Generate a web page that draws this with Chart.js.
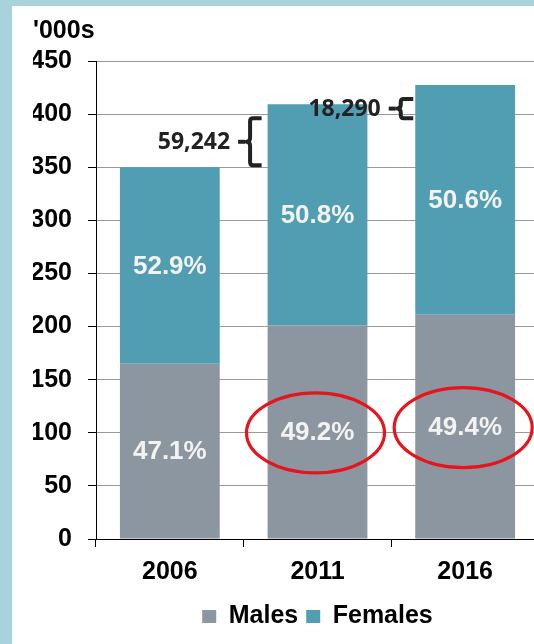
<!DOCTYPE html>
<html>
<head>
<meta charset="utf-8">
<script src="https://cdn.jsdelivr.net/npm/chart.js@4/dist/chart.umd.min.js"></script>
<style>
  html, body { margin: 0; padding: 0; width: 534px; height: 644px; overflow: hidden; background: #a8d2dc; }
  #c { position: absolute; left: 12px; top: 6px; background: #ffffff; }
</style>
</head>
<body>
<canvas id="c" width="540" height="638"></canvas>
<script>
// ---- data ----
const years = ['2006', '2011', '2016'];
const males = [164.9, 201.3, 211.2];     // '000s
const females = [185.1, 207.9, 216.3];   // '000s
const malePct = ['47.1%', '49.2%', '49.4%'];
const femalePct = ['52.9%', '50.8%', '50.6%'];
const growthLabels = ['59,242', '18,290'];   // increase between consecutive totals
const highlighted = [1, 2];                  // circled male shares
const yMin = 0, yMax = 450, yStep = 50;
const unitLabel = "'000s";

const MALE_COLOR = '#8c96a1';
const FEMALE_COLOR = '#519eb3';
const FONT = "'Liberation Sans', Arial, sans-serif";

Chart.defaults.font.family = FONT;
Chart.defaults.color = '#000';

const totals = males.map((m, i) => m + females[i]);

const labelPlugin = {
  id: 'segLabels',
  afterDatasetsDraw(chart) {
    const ctx = chart.ctx;
    ctx.save();
    ctx.font = "bold 26px " + FONT;
    ctx.fillStyle = '#f3f3f3';
    ctx.textAlign = 'center';
    ctx.textBaseline = 'middle';
    const sets = [malePct, femalePct];
    chart.data.datasets.forEach((ds, di) => {
      const meta = chart.getDatasetMeta(di);
      meta.data.forEach((bar, i) => {
        const cy = (bar.y + bar.base) / 2;
        ctx.fillText(sets[di][i], bar.x, cy + 1);
      });
    });
    // red ellipses around highlighted male shares
    const mMeta = chart.getDatasetMeta(0);
    ctx.strokeStyle = '#e8141b';
    ctx.lineWidth = 3.2;
    highlighted.forEach(i => {
      const bar = mMeta.data[i];
      const cy = (bar.y + bar.base) / 2;
      ctx.beginPath();
      ctx.ellipse(bar.x - 2, cy + 1, 69, 40, 0, 0, Math.PI * 2);
      ctx.stroke();
    });
    ctx.restore();
  }
};

const bracePlugin = {
  id: 'braces',
  afterDraw(chart) {
    const ctx = chart.ctx;
    const y = chart.scales.y;
    const fMeta = chart.getDatasetMeta(1);
    const xOff = [-17.5, -14.5];
    const hook = [11.5, 12.5];
    const topOff = [14, 14];
    const botOff = [-2, 14];
    ctx.save();
    ctx.strokeStyle = '#222222';
    ctx.fillStyle = '#222222';
    ctx.lineWidth = 4;
    ctx.lineJoin = 'round';
    ctx.lineCap = 'butt';
    growthLabels.forEach((txt, k) => {
      const bar = fMeta.data[k + 1];
      const left = bar.x - bar.width / 2;
      const vx = left + xOff[k];
      const top = y.getPixelForValue(totals[k + 1]) + topOff[k];
      const bot = y.getPixelForValue(totals[k]) + botOff[k];
      const mid = (top + bot) / 2;
      ctx.beginPath();
      ctx.moveTo(vx + hook[k], top);
      ctx.lineTo(vx + 3, top);
      ctx.quadraticCurveTo(vx, top, vx, top + 3);
      ctx.lineTo(vx, mid - 4);
      ctx.quadraticCurveTo(vx, mid, vx - 3.5, mid);
      ctx.quadraticCurveTo(vx, mid, vx, mid + 4);
      ctx.lineTo(vx, bot - 3);
      ctx.quadraticCurveTo(vx, bot, vx + 3, bot);
      ctx.lineTo(vx + hook[k], bot);
      ctx.stroke();
      ctx.beginPath();
      ctx.moveTo(vx - 12, mid);
      ctx.lineTo(vx - 5, mid);
      ctx.stroke();
      ctx.font = "bold 23px 'Open Sans', 'DejaVu Sans', sans-serif";
      ctx.textAlign = 'right';
      ctx.textBaseline = 'middle';
      ctx.fillText(txt, vx - 20, mid + 1);
    });
    ctx.restore();
  }
};

new Chart(document.getElementById('c'), {
  type: 'bar',
  data: {
    labels: years,
    datasets: [
      { label: 'Males', data: males, backgroundColor: MALE_COLOR, borderWidth: 0 },
      { label: 'Females', data: females, backgroundColor: FEMALE_COLOR, borderWidth: 0 }
    ]
  },
  options: {
    responsive: false,
    animation: false,
    devicePixelRatio: 1,
    layout: { padding: { top: 0, left: 21, right: 13, bottom: 5 } },
    datasets: { bar: { barPercentage: 0.676, categoryPercentage: 1 } },
    plugins: {
      tooltip: { enabled: false },
      title: {
        display: true,
        text: unitLabel,
        align: 'start',
        color: '#000',
        font: { size: 25, weight: 'bold' },
        padding: { top: 10, bottom: 15 }
      },
      legend: {
        position: 'bottom',
        fullSize: false,
        labels: {
          boxWidth: 14,
          boxHeight: 13,
          padding: 8,
          color: '#000',
          font: { size: 25, weight: 'bold' }
        }
      }
    },
    scales: {
      x: {
        stacked: true,
        grid: { display: true, drawOnChartArea: false, drawTicks: true, tickLength: 8, color: '#000' },
        border: { display: true, color: '#000', width: 1 },
        ticks: { color: '#000', padding: 10, font: { size: 25, weight: 'bold' } },
        afterFit(s) { s.height = 57; }
      },
      y: {
        stacked: true,
        min: yMin,
        max: yMax,
        ticks: { stepSize: yStep, color: '#000', padding: 16, font: { size: 25, weight: 'bold' } },
        grid: { color: '#9a9a9a', tickColor: '#000', tickLength: 8, lineWidth: 1 },
        border: { display: true, color: '#000', width: 1 },
        afterFit(s) { s.width = 63; }
      }
    }
  },
  plugins: [labelPlugin, bracePlugin]
});
</script>
</body>
</html>
